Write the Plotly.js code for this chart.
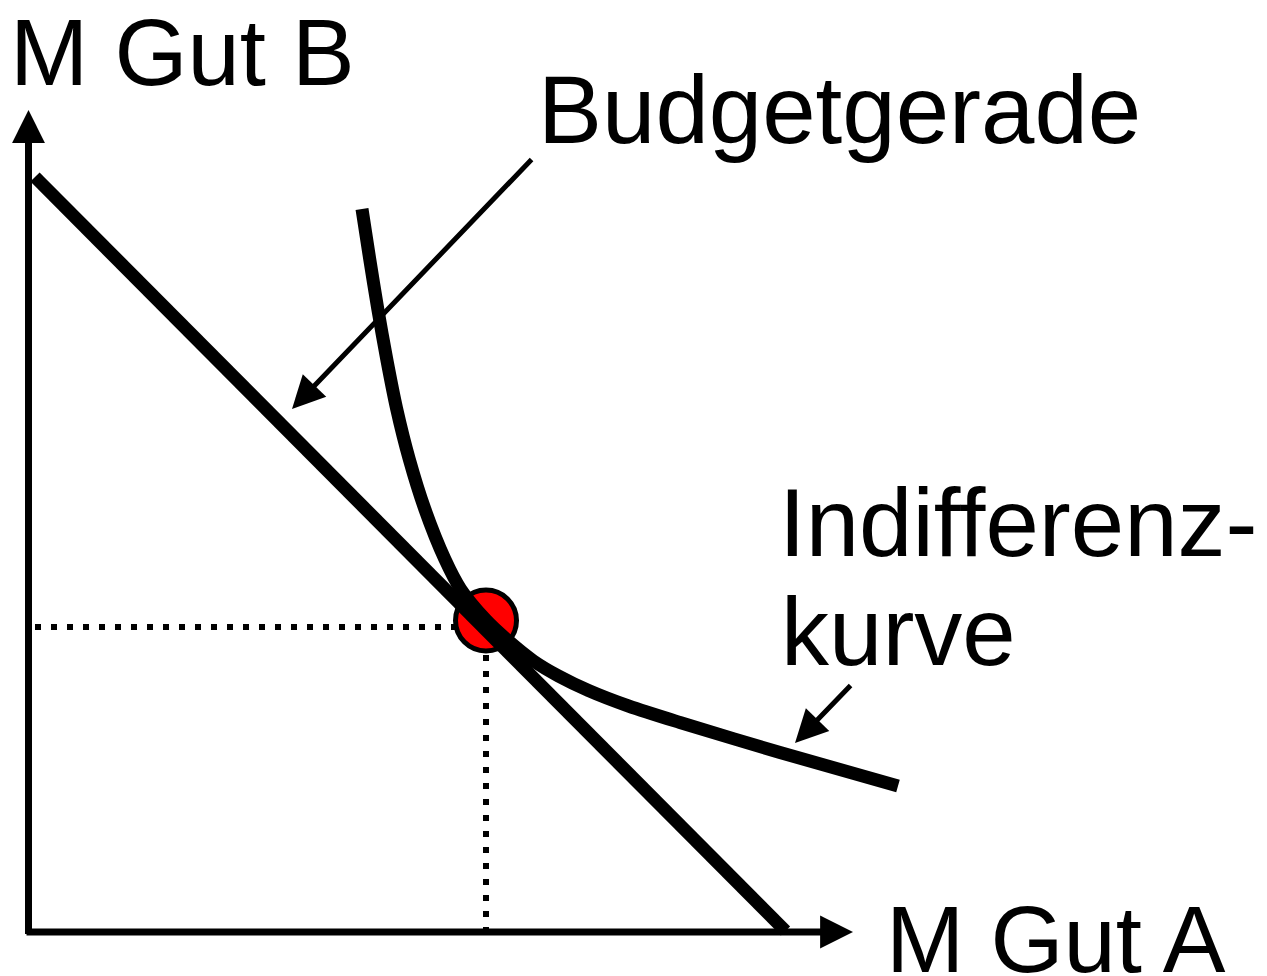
<!DOCTYPE html>
<html>
<head>
<meta charset="utf-8">
<script src="https://cdn.plot.ly/plotly-3.0.1.min.js"></script>
<style>html,body{margin:0;padding:0;background:#fff;}#chart{width:1267px;height:976px;}</style>
</head>
<body>
<div id="chart"></div>
<script>
// Quantities of good A (x) and good B (y), origin at the axes corner
var budgetX = [6.5, 757];
var budgetY = [755, 1];

var indiffX = [333.5, 341.2, 349.3, 358.2, 368.2, 380.7, 396.3, 416.3, 432.1, 457.5, 480, 505, 530, 560, 600, 651.5, 751.5, 869.5];
var indiffY = [723, 673, 623, 573, 523, 473, 423, 373, 343, 312, 291, 271, 256, 241.5, 226, 209.5, 179.5, 146];

var optimumX = [457.5];
var optimumY = [311.5];

var guideHX = [6.5, 426.5];
var guideHY = [305, 305];
var guideVX = [457.5, 457.5];
var guideVY = [277, -5];

// axis arrows: [tailX, tailY, tipX, tipY]
var axisYArrow = [0, -3.5, 0, 822];
var axisXArrow = [-3.5, 0, 824.5, 0];
// label arrows
var budgetArrow = [504.5, 774, 263.5, 523];
var indiffArrow = [823.5, 248, 766.5, 189];

var labels = ['M Gut B', 'Budgetgerade', 'Indifferenz-', 'kurve', 'M Gut A'];
var labelSize = [94, 96, 96, 96, 94];
var labelPx = [[8, 52.5], [536, 109.6], [777, 522.6], [779, 631.6], [884, 939.4]];

var W = 1267, H = 976;
var FONT = 'Liberation Sans, Arial, Helvetica, sans-serif';

var traces = [
  {x: guideHX, y: guideHY, mode: 'lines', line: {color: '#000', width: 6, dash: '6px,10px'}, hoverinfo: 'skip'},
  {x: guideVX, y: guideVY, mode: 'lines', line: {color: '#000', width: 6, dash: '6px,10px'}, hoverinfo: 'skip'},
  {x: optimumX, y: optimumY, mode: 'markers', marker: {size: 61, color: '#ff0000', line: {color: '#000', width: 5}}, hoverinfo: 'skip'},
  {x: budgetX, y: budgetY, mode: 'lines', line: {color: '#000', width: 13}, hoverinfo: 'skip'},
  {x: indiffX, y: indiffY, mode: 'lines', line: {color: '#000', width: 13, shape: 'spline', smoothing: 0.8}, hoverinfo: 'skip'}
];

function arrowAnn(a, w, s) {
  return {x: a[2], y: a[3], ax: a[0], ay: a[1], xref: 'x', yref: 'y', axref: 'x', ayref: 'y',
    text: '', showarrow: true, arrowhead: 2, arrowwidth: w, arrowsize: s, arrowcolor: '#000', standoff: 0};
}

var annotations = [
  arrowAnn(axisYArrow, 7, 0.94),
  arrowAnn(axisXArrow, 7, 0.94),
  arrowAnn(budgetArrow, 5, 1.3),
  arrowAnn(indiffArrow, 5, 1.3)
];
labels.forEach(function (t, i) {
  annotations.push({text: t, xref: 'paper', yref: 'paper', x: labelPx[i][0] / W, y: 1 - labelPx[i][1] / H,
    xanchor: 'left', yanchor: 'middle', showarrow: false, font: {family: FONT, size: labelSize[i], color: '#000'}});
});

var layout = {
  width: W, height: H,
  margin: {l: 0, r: 0, t: 0, b: 0, pad: 0},
  paper_bgcolor: '#fff', plot_bgcolor: '#fff',
  showlegend: false,
  xaxis: {range: [-28.5, 1238.5], visible: false, fixedrange: true},
  yaxis: {range: [-44, 932], visible: false, fixedrange: true},
  annotations: annotations
};

Plotly.newPlot('chart', traces, layout, {displayModeBar: false, staticPlot: true});
</script>
</body>
</html>
